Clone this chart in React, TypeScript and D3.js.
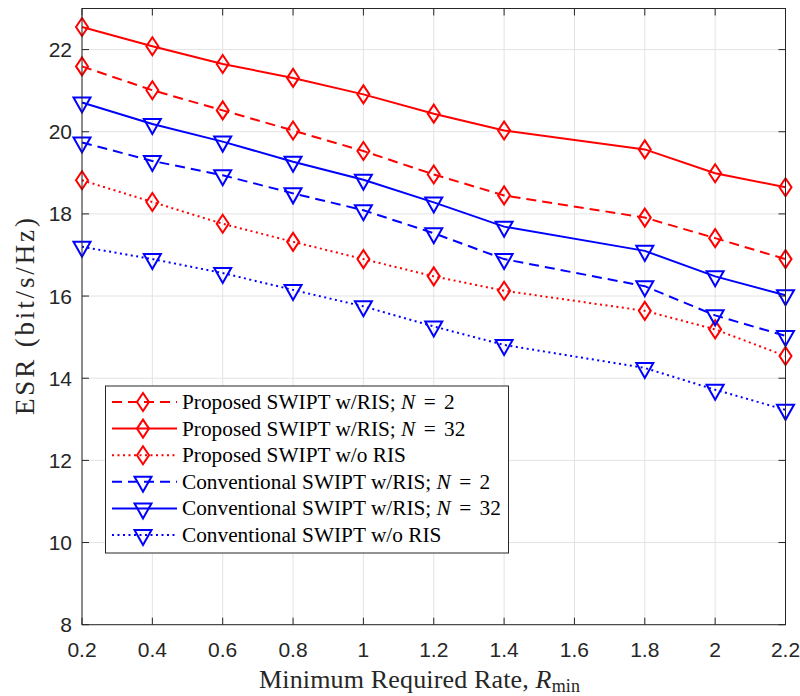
import React from "react";
import * as d3 from "d3";

const xVals = [0.2, 0.4, 0.6, 0.8, 1.0, 1.2, 1.4, 1.8, 2.0, 2.2];
const propN2 = [21.59, 21.01, 20.52, 20.03, 19.53, 18.96, 18.45, 17.91, 17.41, 16.9];
const propN32 = [22.55, 22.08, 21.65, 21.31, 20.91, 20.44, 20.03, 19.57, 18.99, 18.65];
const propNoRIS = [18.82, 18.29, 17.76, 17.32, 16.9, 16.48, 16.13, 15.64, 15.19, 14.54];
const convN2 = [19.74, 19.29, 18.94, 18.5, 18.09, 17.53, 16.9, 16.24, 15.53, 15.03];
const convN32 = [20.71, 20.19, 19.76, 19.27, 18.83, 18.28, 17.69, 17.1, 16.48, 16.02];
const convNoRIS = [17.2, 16.9, 16.56, 16.15, 15.75, 15.26, 14.81, 14.25, 13.72, 13.23];

const xTicks = [0.2, 0.4, 0.6, 0.8, 1, 1.2, 1.4, 1.6, 1.8, 2, 2.2];
const yTicks = [8, 10, 12, 14, 16, 18, 20, 22];

type S = { name: string; nVal?: string; data: number[]; color: string; dash: string; marker: "d" | "v" };
const series: S[] = [
  { name: "Proposed SWIPT w/RIS; ", nVal: "2", data: propN2, color: "#ff0000", dash: "10,6", marker: "d" },
  { name: "Proposed SWIPT w/RIS; ", nVal: "32", data: propN32, color: "#ff0000", dash: "", marker: "d" },
  { name: "Proposed SWIPT w/o RIS", data: propNoRIS, color: "#ff0000", dash: "2,3.5", marker: "d" },
  { name: "Conventional SWIPT w/RIS; ", nVal: "2", data: convN2, color: "#0000ff", dash: "10,6", marker: "v" },
  { name: "Conventional SWIPT w/RIS; ", nVal: "32", data: convN32, color: "#0000ff", dash: "", marker: "v" },
  { name: "Conventional SWIPT w/o RIS", data: convNoRIS, color: "#0000ff", dash: "2,3.5", marker: "v" },
];

const L = 82, R = 785.5, T = 8.5, B = 624.7;
const serif = "'Liberation Serif', 'DejaVu Serif', serif";
const sans = "'Liberation Sans', Arial, sans-serif";
const axisColor = "#262626";

function markerPath(m: "d" | "v") {
  return m === "d" ? "M0,-9L6,0L0,9L-6,0Z" : "M-8.5,-5L8.5,-5L0,10Z";
}

export default function App() {
  const x = d3.scaleLinear().domain([0.2, 2.2]).range([L, R]);
  const y = d3.scaleLinear().domain([8, 23]).range([B, T]);
  const line = d3
    .line<number>()
    .x((_, i) => x(xVals[i]))
    .y((d) => y(d));

  const legX = 105.5, legY = 386, legW = 403, legH = 167;
  const rowH = 26.6;

  return (
    <svg width={800} height={696} style={{ position: "absolute", left: 0, top: 0, background: "#fff" }}>
      <rect x={0} y={0} width={800} height={696} fill="#fff" />
      {/* grid */}
      {xTicks.map((t) => (
        <line key={"gx" + t} x1={x(t)} x2={x(t)} y1={T} y2={B} stroke="#e3e3e3" strokeWidth={1} />
      ))}
      {yTicks.map((t) => (
        <line key={"gy" + t} x1={L} x2={R} y1={y(t)} y2={y(t)} stroke="#e3e3e3" strokeWidth={1} />
      ))}
      {/* series */}
      {series.map((s, k) => (
        <g key={"s" + k}>
          <path d={line(s.data) || ""} fill="none" stroke={s.color} strokeWidth={2} strokeDasharray={s.dash || undefined} />
          {s.data.map((v, i) => (
            <path
              key={i}
              d={markerPath(s.marker)}
              transform={`translate(${x(xVals[i])},${y(v)})`}
              fill="none"
              stroke={s.color}
              strokeWidth={2}
            />
          ))}
        </g>
      ))}
      {/* axes box */}
      <rect x={L} y={T} width={R - L} height={B - T} fill="none" stroke={axisColor} strokeWidth={1} />
      {xTicks.map((t) => (
        <g key={"tx" + t}>
          <line x1={x(t)} x2={x(t)} y1={B} y2={B - 7} stroke={axisColor} />
          <line x1={x(t)} x2={x(t)} y1={T} y2={T + 7} stroke={axisColor} />
          <text x={x(t)} y={657} textAnchor="middle" fontFamily={sans} fontSize={21} fill={axisColor}>
            {String(t)}
          </text>
        </g>
      ))}
      {yTicks.map((t) => (
        <g key={"ty" + t}>
          <line x1={L} x2={L + 7} y1={y(t)} y2={y(t)} stroke={axisColor} />
          <line x1={R} x2={R - 7} y1={y(t)} y2={y(t)} stroke={axisColor} />
          <text x={72} y={y(t) + 7.5} textAnchor="end" fontFamily={sans} fontSize={21} fill={axisColor}>
            {String(t)}
          </text>
        </g>
      ))}
      {/* axis labels */}
      <text
        x={259}
        y={688}
        fontFamily={serif}
        fontSize={26}
        fill={axisColor}
        textLength={321}
        lengthAdjust="spacing"
      >
        Minimum Required Rate, <tspan fontStyle="italic">R</tspan>
        <tspan fontSize={18} dy={4}>min</tspan>
      </text>
      <text
        transform={`translate(34,${(T + B) / 2}) rotate(-90)`}
        x={-98.5}
        fontFamily={serif}
        fontSize={27}
        fill={axisColor}
        textLength={197}
        lengthAdjust="spacing"
      >
        ESR (bit/s/Hz)
      </text>
      {/* legend */}
      <rect x={legX} y={legY} width={legW} height={legH} fill="#fff" stroke={axisColor} strokeWidth={1} />
      {series.map((s, k) => {
        const cy = legY + 16 + k * rowH;
        return (
          <g key={"l" + k}>
            <line x1={112} x2={177} y1={cy} y2={cy} stroke={s.color} strokeWidth={2} strokeDasharray={s.dash || undefined} />
            <path d={markerPath(s.marker)} transform={`translate(143,${cy})`} fill="none" stroke={s.color} strokeWidth={2} />
            <text x={182} y={cy + 7} fontFamily={serif} fontSize={21.3} fill="#000">
              {s.name}
              {s.nVal && (
                <>
                  <tspan fontStyle="italic">N</tspan>
                  <tspan dx={3}> = </tspan>
                  <tspan dx={3}>{s.nVal}</tspan>
                </>
              )}
            </text>
          </g>
        );
      })}
    </svg>
  );
}
